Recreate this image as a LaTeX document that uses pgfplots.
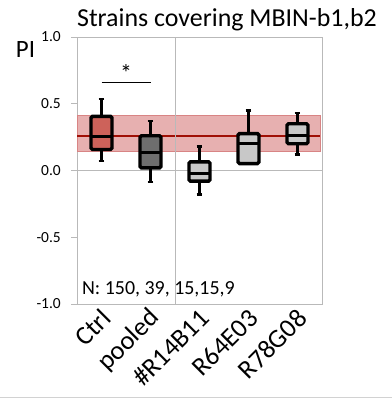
\documentclass[border=0pt]{standalone}
\usepackage{fontspec}
\setmainfont{Carlito}
\usepackage{pgfplots}
\pgfplotsset{compat=1.18}
\usepgfplotslibrary{statistics}
\usetikzlibrary{calc}
\definecolor{axgray}{RGB}{185,185,185}
\definecolor{ctrlred}{RGB}{205,98,90}
\definecolor{pooledgray}{RGB}{110,110,110}
\definecolor{lightbox}{RGB}{200,200,200}
\definecolor{bandfill}{RGB}{231,176,176}
\definecolor{bandedge}{RGB}{216,132,132}
\definecolor{meanred}{RGB}{160,15,5}
\begin{document}
\begin{tikzpicture}
\begin{axis}[
  name=ax,
  scale only axis, width=245bp, height=267bp,
  xmin=-0.5, xmax=4.5, ymin=-1, ymax=1,
  xtick={0,1,2,3,4},
  xticklabels={Ctrl,pooled,\#R14B11,R64E03,R78G08},
  ytick={-1,-0.5,0,0.5,1},
  yticklabels={-1.0,-0.5,0.0,0.5,1.0},
  ytick pos=left,
  axis line style={axgray, line width=0.9pt},
  tick style={axgray, line width=1pt},
  xtick style={draw=none},
  tick align=outside, major tick length=6bp,
  yticklabel style={font=\fontsize{15.5}{18}\selectfont, inner sep=0pt, anchor=east, xshift=-10bp},
  xticklabel style={font=\fontsize{26.5}{30}\selectfont, inner sep=0pt, xshift=5bp, yshift=-4bp, rotate=45, anchor=east},
  clip=false,
  boxplot/draw direction=y,
  boxplot/every box/.style={rounded corners=1.5pt, line width=3.4pt},
  boxplot/every whisker/.style={line width=2.2pt},
  boxplot/every median/.style={line width=3pt},
]
% reference band and line
\addplot[fill=bandfill, draw=bandedge, line width=0.8pt] coordinates {(-0.49,0.144) (4.46,0.144) (4.46,0.41) (-0.49,0.41)} -- cycle;
\addplot[meanred, line width=1.9pt] coordinates {(-0.49,0.256) (4.46,0.256)};
% zero line and divider
\addplot[axgray, line width=0.9pt] coordinates {(-0.5,0) (4.5,0)};
\addplot[axgray, line width=0.9pt] coordinates {(1.5,-1) (1.5,1)};
% boxes
\addplot[boxplot prepared={draw position=0, median=0.256, upper quartile=0.405, lower quartile=0.157, upper whisker=0.535, lower whisker=0.07, box extend=0.43, whisker extend=0.12}, draw=black, fill=ctrlred, line width=2.2pt] coordinates {};
\addplot[boxplot prepared={draw position=1, median=0.132, upper quartile=0.26, lower quartile=0.02, upper whisker=0.368, lower whisker=-0.087, box extend=0.43, whisker extend=0.12}, draw=black, fill=pooledgray, line width=2.2pt] coordinates {};
\addplot[boxplot prepared={draw position=2, median=-0.022, upper quartile=0.065, lower quartile=-0.08, upper whisker=0.18, lower whisker=-0.18, box extend=0.43, whisker extend=0.12}, draw=black, fill=lightbox, line width=2.2pt] coordinates {};
\addplot[boxplot prepared={draw position=3, median=0.2, upper quartile=0.276, lower quartile=0.052, upper whisker=0.45, lower whisker=0.052, box extend=0.43, whisker extend=0.12}, draw=black, fill=lightbox, line width=2.2pt] coordinates {};
\addplot[boxplot prepared={draw position=4, median=0.26, upper quartile=0.35, lower quartile=0.2, upper whisker=0.43, lower whisker=0.12, box extend=0.43, whisker extend=0.12}, draw=black, fill=lightbox, line width=2.2pt] coordinates {};
% significance
\addplot[black, line width=1.6pt] coordinates {(0,0.66) (1,0.66)};
\node[font=\fontsize{24}{28}\selectfont, anchor=center] at (axis cs:0.5,0.73) {*};
% texts
\node[font=\fontsize{20}{24}\selectfont, anchor=base west, inner sep=0pt] at (rel axis cs:0.02,0.034) {N: 150, 39, 15,15,9};
\node[font=\fontsize{25}{28}\selectfont, anchor=center, inner sep=0pt] at (rel axis cs:-0.21,0.955) {PI};
\node[font=\fontsize{26}{30}\selectfont, anchor=base, inner sep=0pt] at (rel axis cs:0.612,1.0375) {Strains covering MBIN-b1,b2};
\end{axis}
\pgfresetboundingbox
\path[use as bounding box] ($(ax.south west)+(-77bp,-95bp)$) rectangle ($(ax.south west)+(315bp,304bp)$);
\draw[gray!35, line width=0.9pt] ($(ax.south west)+(-77bp,-93bp)$) -- ($(ax.south west)+(315bp,-93bp)$);
\end{tikzpicture}
\end{document}
